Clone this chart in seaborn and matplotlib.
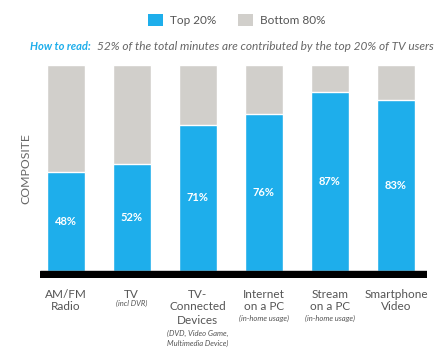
import matplotlib
matplotlib.use("Agg")
import matplotlib.pyplot as plt
import matplotlib.transforms as mtransforms
from matplotlib.patches import Patch
import seaborn as sns
import pandas as pd

categories = ["AM/FM Radio", "TV", "TV-Connected Devices", "Internet on a PC",
              "Stream on a PC", "Smartphone Video"]
top20 = [48, 52, 71, 76, 87, 83]
total = [100, 100, 100, 100, 100, 100]
main_labels = [["AM/FM", "Radio"], ["TV"], ["TV-", "Connected", "Devices"],
               ["Internet", "on a PC"], ["Stream", "on a PC"], ["Smartphone", "Video"]]
sub_labels = [[], ["(incl DVR)"], ["(DVD, Video Game,", "Multimedia Device)"],
              ["(in-home usage)"], ["(in-home usage)"], []]

BLUE = "#1EAEEB"
GRAY = "#D1CFCB"
TXT = "#555555"

sns.set_theme(style="white")
plt.rcParams["font.family"] = ["Lato", "DejaVu Sans"]

W, H = 448, 354
fig = plt.figure(figsize=(4.48, 3.54), dpi=100)
ax = fig.add_axes([40 / W, 1 - 278 / H, 387 / W, 213 / H])

df = pd.DataFrame({"cat": categories, "top": top20, "total": total})
bw = 38 / 66.06
sns.barplot(data=df, x="cat", y="total", color=GRAY, width=bw, saturation=1, ax=ax)
sns.barplot(data=df, x="cat", y="top", color=BLUE, width=bw, saturation=1, ax=ax)

ax.set_xlim(-0.389, 5.469)
ax.set_ylim(-3.4, 100)
ax.axhspan(-3.4, 0, color="black", zorder=5)
for s in ax.spines.values():
    s.set_visible(False)
ax.set_xticks([])
ax.set_yticks([])
ax.set_xlabel("")
ax.set_ylabel("")

for i, v in enumerate(top20):
    ax.text(i, v / 2, f"{v}%", ha="center", va="center", color="white",
            fontsize=8, fontweight="bold")

tr = mtransforms.blended_transform_factory(ax.transData, fig.transFigure)
main_y = [294, 307, 321]
for i, lines in enumerate(main_labels):
    for j, line in enumerate(lines):
        ax.text(i, 1 - main_y[j] / H, line, transform=tr, ha="center", va="center",
                fontsize=8.5, color=TXT, clip_on=False)
    n = len(lines)
    if sub_labels[i]:
        if n == 1:
            ys = [303]
        elif n == 2:
            ys = [318]
        else:
            ys = [333, 343]
        for j, line in enumerate(sub_labels[i]):
            ax.text(i, 1 - ys[j] / H, line, transform=tr, ha="center", va="center",
                    fontsize=5.5, style="italic", color=TXT, clip_on=False)

fig.text(26 / W, 1 - 168.5 / H, "COMPOSITE", rotation=90, ha="center", va="center",
         fontsize=8.8, color="#666666")

handles = [Patch(facecolor=BLUE, edgecolor="none", label="Top 20%"),
           Patch(facecolor=GRAY, edgecolor="none", label="Bottom 80%")]
fig.legend(handles=handles, loc="center", bbox_to_anchor=(237 / W, 1 - 20 / H),
           ncol=2, frameon=False, fontsize=8.5, handlelength=1.3, handleheight=1.3,
           handletextpad=0.6, columnspacing=1.8, labelcolor=TXT)

fig.text(30 / W, 1 - 46.5 / H, "How to read:", ha="left", va="center",
         fontsize=8, style="italic", color=BLUE, fontweight="bold")
fig.text(97 / W, 1 - 46.5 / H,
         "52% of the total minutes are contributed by the top 20% of TV users",
         ha="left", va="center", fontsize=8.6, style="italic", color="#666666")

fig.savefig("out.png", dpi=100)
